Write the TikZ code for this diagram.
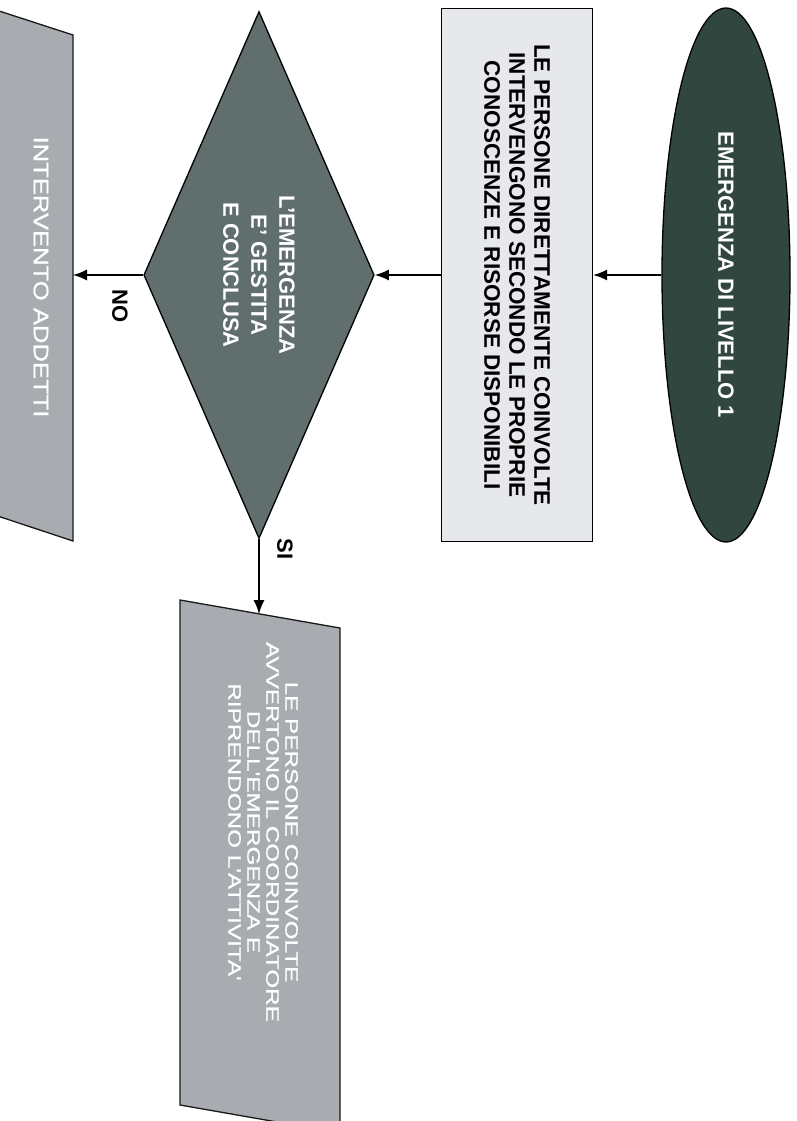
\documentclass[tikz,border=0pt]{standalone}
\usepackage{fontspec}
\setmainfont{Liberation Sans}
\newfontfamily\widefont[FakeStretch=1.35, FakeBold=0.8]{Liberation Sans}
\newfontfamily\midfont[FakeStretch=1.22, FakeBold=0.8]{Liberation Sans}
\usetikzlibrary{arrows.meta, shapes.geometric}
\definecolor{emgreen}{RGB}{48,70,62}
\definecolor{boxgray}{RGB}{230,232,236}
\definecolor{decgray}{RGB}{96,110,110}
\definecolor{datagray}{RGB}{168,172,176}

\begin{document}
\begin{tikzpicture}[> = {Latex[length=14pt, width=11pt]}, % arrow head style
                x = 1pt, y = -1pt, % one unit per pixel, y downwards
                line width = 1.3pt % line style
            ]
            \useasboundingbox (0,0) rectangle (796,1121);
            \clip (0,0) rectangle (796,1121);
            \fill[white] (0,0) rectangle (796,1121);

            \tikzstyle{every node}=[rotate = -90, inner sep = 0pt, align = center]
            \tikzstyle{startnode}=[ellipse, draw = black, fill = emgreen, text = white,
            minimum width = 534pt, minimum height = 128pt,
            font = \bfseries\fontsize{22}{27}\selectfont]
            \tikzstyle{procbox}=[rectangle, draw = black, fill = boxgray,
            minimum width = 533pt, minimum height = 151pt,
            font = \bfseries\fontsize{22.5}{25}\selectfont]
            \tikzstyle{decision}=[diamond, draw = black, fill = decgray, text = white,
            minimum width = 527pt, minimum height = 227pt,
            font = \bfseries\fontsize{22}{28}\selectfont]
            \tikzstyle{datashape}=[draw = black!90, fill = datagray]
            \tikzstyle{datatext}=[text = white]
            \tikzstyle{answer}=[font = \bfseries\fontsize{22}{22}\selectfont]

            % flow nodes
            \node[startnode] (lev1) at (726,275) {EMERGENZA DI LIVELLO 1};
            \node[procbox] (act) at (517,275) {LE PERSONE DIRETTAMENTE COINVOLTE\\
                INTERVENGONO SECONDO LE PROPRIE\\ CONOSCENZE E RISORSE DISPONIBILI};
            \node[decision] (done) at (259,275) {L'EMERGENZA\\ E' GESTITA\\ E CONCLUSA};

            % data shapes
            \draw[datashape] (-87,-17) -- (73,35) -- (73,541) -- (-87,488) -- cycle;
            \draw[datashape] (180,600) -- (340,628) -- (340,1133) -- (180,1105) -- cycle;
            \coordinate (addin) at (73,275);
            \coordinate (resin) at (259,614);
            \node[datatext, font = \midfont\fontsize{21}{21}\selectfont] (add) at (41,277)
            {INTERVENTO ADDETTI};
            \node[datatext, font = \widefont\fontsize{18}{19}\selectfont] (res) at (263,832)
            {LE PERSONE COINVOLTE\\ AVVERTONO IL COORDINATORE\\ DELL'EMERGENZA E\\
                RIPRENDONO L'ATTIVITA'};

            \node[answer] (no) at (120,306) {NO};
            \node[answer] (si) at (285,549) {SI};

            \path[->] (lev1) edge (act); \path[->] (act) edge (done); \path[->]
            (done) edge (addin); \path[->] (done) edge (resin);
\end{tikzpicture}
\end{document}
